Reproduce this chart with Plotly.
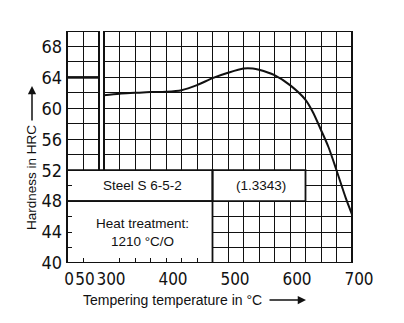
import plotly.graph_objects as go

# Tempering curve of high-speed steel S 6-5-2 (1.3343), hardened from 1210 °C in oil
temper_temp = [300, 325, 350, 375, 400, 425, 450, 475, 500, 525, 540, 550,
               575, 600, 625, 637, 650, 662, 675, 690, 700]
hardness = [61.7, 61.9, 62.0, 62.1, 62.15, 62.35, 63.0, 63.9, 64.6, 65.15, 65.15, 65.0,
            64.3, 63.0, 61.1, 59.5, 57.2, 55.0, 52.0, 48.4, 46.3]

# As-quenched hardness, shown in the room-temperature strip
quench_temp = [0, 100]
quench_hardness = [64, 64]

# Axis ticks and labels
room_ticks = [0, 50]
room_labels = ["0", "50"]
temper_ticks = [300, 400, 500, 600, 700]
temper_labels = ["300", "400", "500", "600", "700"]
hrc_ticks = [40, 44, 48, 52, 56, 60, 64, 68]
hrc_labels = ["40", "44", "48", "52", "56", "60", "64", "68"]

# Information boxes: (text, start on temper axis or None for the left edge, end, y0, y1)
info_boxes = [
    ("Steel S 6-5-2", None, 475, 48, 52),
    ("(1.3343)", 475, 625, 48, 52),
    ("Heat treatment:<br>1210 °C/O", None, 475, 40, 48),
]

# Layout geometry (pixels)
W, H = 404, 323
L, R, T, B = 67, 52, 31, 60
plot_w = W - L - R
plot_h = H - T - B
D1 = 32 / plot_w          # end of room-temperature strip
D2 = 37 / plot_w          # start of tempering section
RMIN, RMAX = 0, 100
TMIN, TMAX = 300, 700
YMIN, YMAX = 40, 70

NUM_FONT = "Liberation Sans Narrow, DejaVu Sans Condensed, Arial Narrow, Liberation Sans, sans-serif"
TXT_FONT = "Liberation Sans, Arial, Helvetica, sans-serif"
INK = "#111111"
GRID_W = 1.4


def temper_to_paper(t):
    return D2 + (t - TMIN) / (TMAX - TMIN) * (1 - D2)


def px_x(p):
    return (p - L) / plot_w


def px_y(p):
    return (T + plot_h - p) / plot_h


fig = go.Figure()

fig.add_trace(go.Scatter(
    x=quench_temp, y=quench_hardness, xaxis="x", yaxis="y",
    mode="lines", line=dict(color=INK, width=2.6), hoverinfo="skip",
))
fig.add_trace(go.Scatter(
    x=temper_temp, y=hardness, xaxis="x2", yaxis="y",
    mode="lines", line=dict(color=INK, width=2.0, shape="spline", smoothing=0.8),
    hoverinfo="skip",
))

axis_common = dict(
    showline=False, zeroline=False, showgrid=True,
    gridcolor=INK, gridwidth=GRID_W,
    ticks="inside", ticklen=5, tickwidth=1.2, tickcolor=INK,
)
xfont = dict(family=NUM_FONT, size=17, color=INK)
yfont = dict(family=NUM_FONT, size=18, color=INK)

fig.update_layout(
    width=W, height=H,
    margin=dict(l=L, r=R, t=T, b=B),
    paper_bgcolor="white", plot_bgcolor="white",
    showlegend=False,
    xaxis=dict(
        domain=[0, D1], range=[RMIN, RMAX], anchor="y",
        tickmode="array", tickvals=room_ticks, ticktext=room_labels,
        tickangle=0, ticklabelshift=2, ticklabelstandoff=4, tickfont=xfont,
        **axis_common,
    ),
    xaxis2=dict(
        domain=[D2, 1], range=[TMIN, TMAX], anchor="y",
        tickmode="array", tickvals=temper_ticks, ticktext=temper_labels,
        tickangle=0, ticklabelshift=7, ticklabelstandoff=4, tickfont=xfont,
        minor=dict(tick0=300, dtick=25, showgrid=True, gridcolor=INK, gridwidth=GRID_W,
                   ticks="inside", ticklen=5, tickwidth=1.2, tickcolor=INK),
        **axis_common,
    ),
    yaxis=dict(
        domain=[0, 1], range=[YMIN, YMAX], anchor="x",
        tickmode="array", tickvals=hrc_ticks, ticktext=hrc_labels,
        ticklabelstandoff=4, tickfont=yfont,
        minor=dict(tick0=40, dtick=2, showgrid=True, gridcolor=INK, gridwidth=GRID_W,
                   ticks="inside", ticklen=5, tickwidth=1.2, tickcolor=INK),
        **axis_common,
    ),
)

shapes = []
annotations = []
box_line = dict(color=INK, width=1.8)
for text, x0, x1, y0, y1 in info_boxes:
    # White fill over the grid, drawn per subplot so it sits under the axes
    if x0 is None:
        shapes.append(dict(type="rect", xref="x", yref="y", x0=RMIN, x1=RMAX, y0=y0, y1=y1,
                           fillcolor="white", line=dict(width=0), layer="between"))
        shapes.append(dict(type="rect", xref="x2", yref="y", x0=TMIN, x1=x1, y0=y0, y1=y1,
                           fillcolor="white", line=dict(width=0), layer="between"))
    else:
        shapes.append(dict(type="rect", xref="x2", yref="y", x0=x0, x1=x1, y0=y0, y1=y1,
                           fillcolor="white", line=dict(width=0), layer="between"))
    p0 = 0 if x0 is None else temper_to_paper(x0)
    p1 = temper_to_paper(x1)
    # Box border
    shapes.append(dict(type="rect", xref="paper", yref="y", x0=p0, x1=p1, y0=y0, y1=y1,
                       line=box_line, fillcolor="rgba(0,0,0,0)", layer="above"))
    annotations.append(dict(
        xref="paper", yref="y", x=(p0 + p1) / 2 + 0.008, y=(y0 + y1) / 2,
        xanchor="center", yanchor="middle",
        text=text, showarrow=False, align="center",
        font=dict(family=TXT_FONT, size=13.5, color=INK),
    ))

frame = dict(color=INK, width=2.0)
# Outer frame with the break between the room-temperature and tempering sections
shapes += [
    dict(type="line", xref="paper", yref="y", x0=0, x1=1, y0=YMIN, y1=YMIN, line=frame, layer="above"),
    dict(type="line", xref="paper", yref="y", x0=0, x1=D1, y0=YMAX, y1=YMAX, line=frame, layer="above"),
    dict(type="line", xref="paper", yref="y", x0=D2, x1=1, y0=YMAX, y1=YMAX, line=frame, layer="above"),
    dict(type="line", xref="paper", yref="y", x0=0, x1=0, y0=YMIN, y1=YMAX, line=frame, layer="above"),
    dict(type="line", xref="paper", yref="y", x0=1, x1=1, y0=YMIN, y1=YMAX, line=frame, layer="above"),
    dict(type="line", xref="paper", yref="y", x0=D1, x1=D1, y0=52, y1=YMAX, line=frame, layer="above"),
    dict(type="line", xref="paper", yref="y", x0=D2, x1=D2, y0=52, y1=YMAX, line=frame, layer="above"),
]

# Axis titles with arrows
annotations += [
    dict(xref="paper", yref="paper", x=px_x(172), y=px_y(300),
         xanchor="center", yanchor="middle",
         text="Tempering temperature in °C", showarrow=False,
         font=dict(family=TXT_FONT, size=14, color=INK)),
    dict(xref="paper", yref="paper", x=px_x(306), y=px_y(300),
         text="", showarrow=True, ax=-38, ay=0, arrowhead=2, arrowsize=1.1,
         arrowwidth=1.5, arrowcolor=INK),
    dict(xref="paper", yref="paper", x=px_x(31), y=px_y(178),
         xanchor="center", yanchor="middle",
         text="Hardness in HRC", textangle=-90, showarrow=False,
         font=dict(family=TXT_FONT, size=13.5, color=INK)),
    dict(xref="paper", yref="paper", x=px_x(32), y=px_y(86),
         text="", showarrow=True, ax=0, ay=36, arrowhead=2, arrowsize=1.1,
         arrowwidth=1.5, arrowcolor=INK),
]

fig.update_layout(shapes=shapes, annotations=annotations)
fig.write_html("out.html")
